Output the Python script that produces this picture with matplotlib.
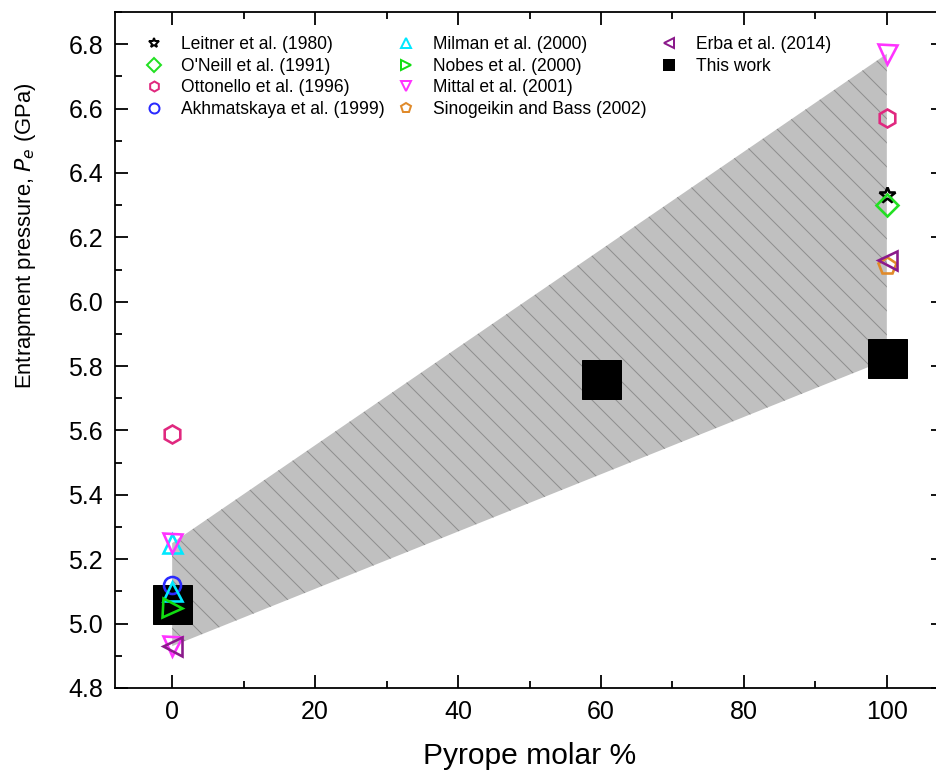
import matplotlib
matplotlib.use('Agg')
import matplotlib.pyplot as plt
from matplotlib.ticker import MultipleLocator

plt.rcParams['font.family'] = ['Liberation Sans', 'DejaVu Sans']
plt.rcParams['hatch.linewidth'] = 1.0

# envelope of the estimates (shaded band)
band_x = [0, 100, 100, 0]
band_y = [5.25, 6.77, 5.82, 4.93]

# literature values: (pyrope %, Pe GPa)
leitner_x, leitner_y = [100], [6.33]
oneill_x, oneill_y = [100], [6.30]
ottonello_x, ottonello_y = [0, 100], [5.59, 6.57]
akhmat_x, akhmat_y = [0], [5.12]
milman_x, milman_y = [0, 0], [5.10, 5.25]
nobes_x, nobes_y = [0], [5.05]
mittal_x, mittal_y = [0, 0, 100], [5.25, 4.93, 6.77]
sino_x, sino_y = [100], [6.11]
erba_x, erba_y = [0, 100], [4.93, 6.13]
this_x, this_y = [0, 60, 100], [5.06, 5.76, 5.825]

series = [
    ('Leitner et al. (1980)', leitner_x, leitner_y, '*', 'black', 17),
    ("O'Neill et al. (1991)", oneill_x, oneill_y, 'D', '#22e022', 15),
    ('Ottonello et al. (1996)', ottonello_x, ottonello_y, 'h', '#e0287f', 18),
    ('Akhmatskaya et al. (1999)', akhmat_x, akhmat_y, 'o', '#2a2aff', 17),
    ('Milman et al. (2000)', milman_x, milman_y, '^', '#00e8ff', 19),
    ('Nobes et al. (2000)', nobes_x, nobes_y, '>', '#11dd11', 19),
    ('Mittal et al. (2001)', mittal_x, mittal_y, 'v', '#ff33ff', 19),
    ('Sinogeikin and Bass (2002)', sino_x, sino_y, 'p', '#e08a2a', 18),
    ('Erba et al. (2014)', erba_x, erba_y, '<', '#8b1a8b', 19),
]

# dpi 72 so that one point == one pixel
fig = plt.figure(figsize=(936/72, 781/72), dpi=72)
ax = fig.add_axes([115/936, 93/781, 829/936, 676/781])

ax.fill(band_x, band_y, facecolor='#c0c0c0', edgecolor='#8e8e8e',
        hatch='\\', linewidth=0, zorder=1)

for lab, xs, ys, m, c, ms in series:
    ax.plot(xs, ys, ls='none', marker=m, ms=ms, mfc='none', mec=c,
            mew=2.6, label=lab, zorder=4)
ax.plot(this_x, this_y, ls='none', marker='s', ms=39, mfc='black',
        mec='black', label='This work', zorder=3)

ax.set_xlim(-8, 108)
ax.set_ylim(4.8, 6.9)
ax.xaxis.set_major_locator(MultipleLocator(20))
ax.xaxis.set_minor_locator(MultipleLocator(10))
ax.yaxis.set_major_locator(MultipleLocator(0.2))
ax.yaxis.set_minor_locator(MultipleLocator(0.1))
ax.yaxis.set_major_formatter(plt.FormatStrFormatter('%.1f'))
ax.tick_params(which='both', direction='in', top=True, right=True, width=1.8)
ax.tick_params(which='major', length=13, labelsize=25, pad=12)
ax.tick_params(which='minor', length=7)
for s in ax.spines.values():
    s.set_linewidth(1.8)

ax.set_xlabel('Pyrope molar %', fontsize=30, labelpad=18)
ax.set_ylabel('Entrapment pressure, $P_e$ (GPa)', fontsize=22)
ax.yaxis.set_label_coords(-0.093, 0.669)

handles, labels = ax.get_legend_handles_labels()
blank = plt.Line2D([], [], ls='none')
handles += [blank, blank]
labels += ['', '']
leg = ax.legend(handles, labels, ncol=3, loc='upper left',
                bbox_to_anchor=(0.036, 0.9645), frameon=False, fontsize=17.5,
                borderpad=0, borderaxespad=0, handlelength=1.0,
                handletextpad=1.05, columnspacing=0.75, labelspacing=0.27)
for h in leg.legend_handles:
    h.set_markersize(10)
    h.set_markeredgewidth(2)

fig.savefig('out.png', dpi=72)
